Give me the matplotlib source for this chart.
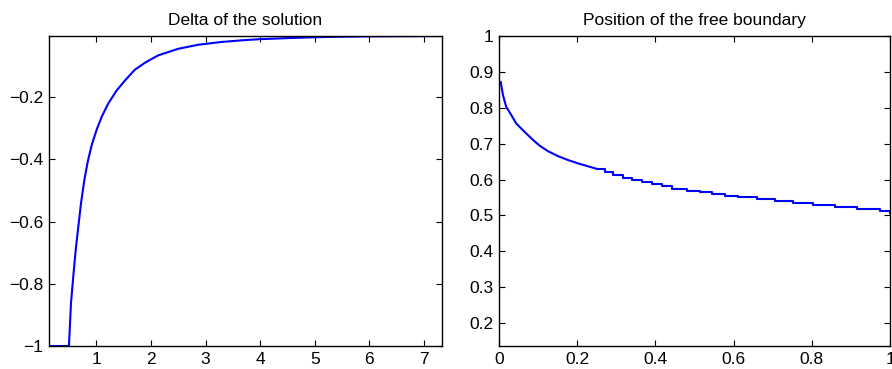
import numpy as np
import matplotlib
matplotlib.use("Agg")
import matplotlib.pyplot as plt
from matplotlib.ticker import FuncFormatter

plt.rcParams['font.family'] = ['Liberation Sans', 'DejaVu Sans']

# ----------------------------------------------------------
# Delta of the solution
# ----------------------------------------------------------
delta_S = [0.13, 0.496, 0.533, 0.575, 0.619, 0.667, 0.716, 0.777, 0.839,
           0.912, 1.004, 1.095, 1.216, 1.370, 1.522, 1.705, 1.888, 2.132,
           2.498, 2.864, 3.293, 3.72, 4.0, 4.6, 5.2, 6.0, 7.33]
delta_V = [-1.0, -1.0, -0.863, -0.777, -0.692, -0.617, -0.542, -0.467, -0.408,
           -0.354, -0.304, -0.263, -0.220, -0.178, -0.146, -0.111, -0.089,
           -0.065, -0.044, -0.031, -0.022, -0.016, -0.013, -0.009, -0.006,
           -0.004, -0.003]

# ----------------------------------------------------------
# Free boundary: smooth start, then grid staircase
# ----------------------------------------------------------
fb_t = [0.005, 0.011, 0.019, 0.032, 0.045, 0.066, 0.088, 0.105, 0.126,
        0.152, 0.178, 0.203, 0.228, 0.250]
fb_s = [0.872, 0.835, 0.803, 0.780, 0.756, 0.733, 0.710, 0.694, 0.679,
        0.665, 0.654, 0.645, 0.637, 0.630]

step_t = [0.250, 0.272, 0.293, 0.318, 0.340, 0.365, 0.391, 0.417, 0.442,
          0.480, 0.514, 0.544, 0.578, 0.612, 0.659, 0.706, 0.753, 0.804,
          0.859, 0.915, 0.975, 1.0]
step_s = [0.630, 0.621, 0.612, 0.605, 0.598, 0.593, 0.587, 0.581, 0.575,
          0.569, 0.564, 0.559, 0.554, 0.550, 0.546, 0.540, 0.534, 0.529,
          0.524, 0.519, 0.513, 0.507]

left_xticks = [1, 2, 3, 4, 5, 6, 7]
left_yticks = [-1, -0.8, -0.6, -0.4, -0.2]
right_xticks = [0, 0.2, 0.4, 0.6, 0.8, 1]
right_yticks = [0.2, 0.3, 0.4, 0.5, 0.6, 0.7, 0.8, 0.9, 1]


def matlab_fmt(v, pos):
    s = ("%g" % round(v, 4))
    return s.replace("-", "\u2212")


def style_axes(ax):
    ax.tick_params(direction="in", length=4, width=0.8, top=True, right=True,
                   labelsize=12.5, pad=4, colors="black")
    for sp in ax.spines.values():
        sp.set_linewidth(1.0)
    ax.xaxis.set_major_formatter(FuncFormatter(matlab_fmt))
    ax.yaxis.set_major_formatter(FuncFormatter(matlab_fmt))


fig = plt.figure(figsize=(8.92, 3.69), dpi=100)

# ---- left: delta ----
ax1 = fig.add_axes([0.0549, 0.0623, 0.4406, 0.840])
ax1.plot(delta_S, delta_V, color="#0000ff", linewidth=1.5)
ax1.set_xlim(0.13, 7.33)
ax1.set_ylim(-1, -0.003)
ax1.set_xticks(left_xticks)
ax1.set_yticks(left_yticks)
style_axes(ax1)
ax1.set_title("Delta of the solution", fontsize=12.5, pad=8)

# ---- right: free boundary ----
ax2 = fig.add_axes([0.5591, 0.0623, 0.4387, 0.840])
ax2.plot(fb_t, fb_s, color="#0000ff", linewidth=1.5)
ax2.step(step_t, step_s, where="post", color="#0000ff", linewidth=1.5)
ax2.set_xlim(0, 1)
ax2.set_ylim(0.136, 1)
ax2.set_xticks(right_xticks)
ax2.set_yticks(right_yticks)
style_axes(ax2)
ax2.set_title("Position of the free boundary", fontsize=12.5, pad=8)

fig.savefig("out.png", dpi=100)
